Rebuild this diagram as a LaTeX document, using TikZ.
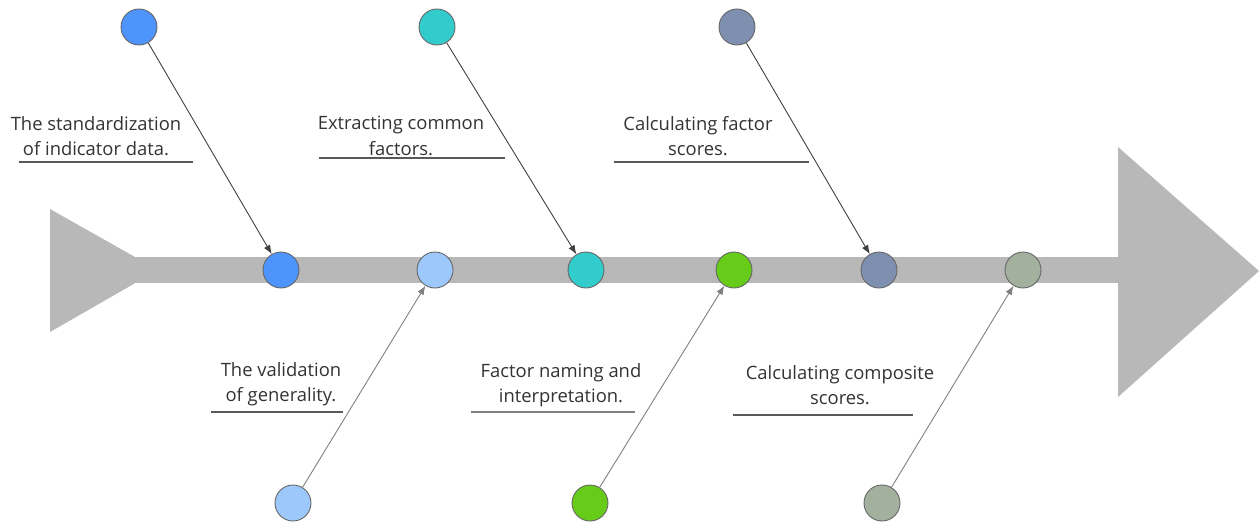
\documentclass[tikz,border=0pt]{standalone}
\usepackage{fontspec}
\setmainfont{Open Sans}
\usetikzlibrary{arrows.meta}

\definecolor{spine}{HTML}{B8B8B8}
\definecolor{ink}{HTML}{333333}
\definecolor{cBlue}{HTML}{4D94FC}
\definecolor{cSky}{HTML}{9DC8FC}
\definecolor{cTeal}{HTML}{33CCCC}
\definecolor{cGreen}{HTML}{66CC19}
\definecolor{cSlate}{HTML}{7F8FB0}
\definecolor{cSage}{HTML}{A3B09E}

\begin{document}
\begin{tikzpicture}[x=1pt,y=-1pt,
  dot/.style={circle,draw=black!60,line width=0.9pt,minimum size=36pt,inner sep=0pt},
  lab/.style={align=center,text=ink,font=\fontsize{18.4}{25.5}\selectfont,inner sep=0pt},
  under/.style={draw=black!65,line width=2.2pt},
  uparrow/.style={-{Latex[length=9pt,width=7pt]},draw=black!75,line width=0.9pt},
  dnarrow/.style={-{Latex[length=9pt,width=7pt]},draw=black!50,line width=0.9pt}]
\useasboundingbox (0,0) rectangle (1259,522);

% fish body
\fill[spine] (50,209) -- (158,270) -- (50,332) -- cycle;
\fill[spine] (135,257) rectangle (1120,283);
\fill[spine] (1118,147) -- (1259,271) -- (1118,397) -- cycle;

% points on the spine
\node[dot,fill=cBlue]  (s1) at (281,270) {};
\node[dot,fill=cSky]   (s2) at (435,270) {};
\node[dot,fill=cTeal]  (s3) at (586,270) {};
\node[dot,fill=cGreen] (s4) at (734,270) {};
\node[dot,fill=cSlate] (s5) at (879,270) {};
\node[dot,fill=cSage]  (s6) at (1023,270) {};

% bones above
\node[dot,fill=cBlue]  (t1) at (139,27) {};
\node[dot,fill=cTeal]  (t2) at (437,27) {};
\node[dot,fill=cSlate] (t3) at (737,27) {};

% bones below
\node[dot,fill=cSky]   (b1) at (293,503) {};
\node[dot,fill=cGreen] (b2) at (590,503) {};
\node[dot,fill=cSage]  (b3) at (882,503) {};

\draw[uparrow] (t1) -- (s1);
\draw[uparrow] (t2) -- (s3);
\draw[uparrow] (t3) -- (s5);
\draw[dnarrow] (b1) -- (s2);
\draw[dnarrow] (b2) -- (s4);
\draw[dnarrow] (b3) -- (s6);

% labels
\node[lab] (l1) at (96,136) {The standardization\\of indicator data.};
\node[lab] (l2) at (401,136) {Extracting common\\factors.};
\node[lab] (l3) at (698,136) {Calculating factor\\scores.};
\node[lab] (l4) at (281,384) {The validation\\of generality.};
\node[lab] (l5) at (561,385) {Factor naming and\\interpretation.};
\node[lab] (l6) at (840,385) {Calculating composite\\scores.};

\draw[under] (19,162) -- (193,162);
\draw[under] (319,158) -- (505,158);
\draw[under] (614,162) -- (809,162);
\draw[under] (211,412) -- (343,412);
\draw[under,line width=1.2pt,draw=black!50] (471,412) -- (635,412);
\draw[under] (733,415) -- (913,415);
\end{tikzpicture}
\end{document}
